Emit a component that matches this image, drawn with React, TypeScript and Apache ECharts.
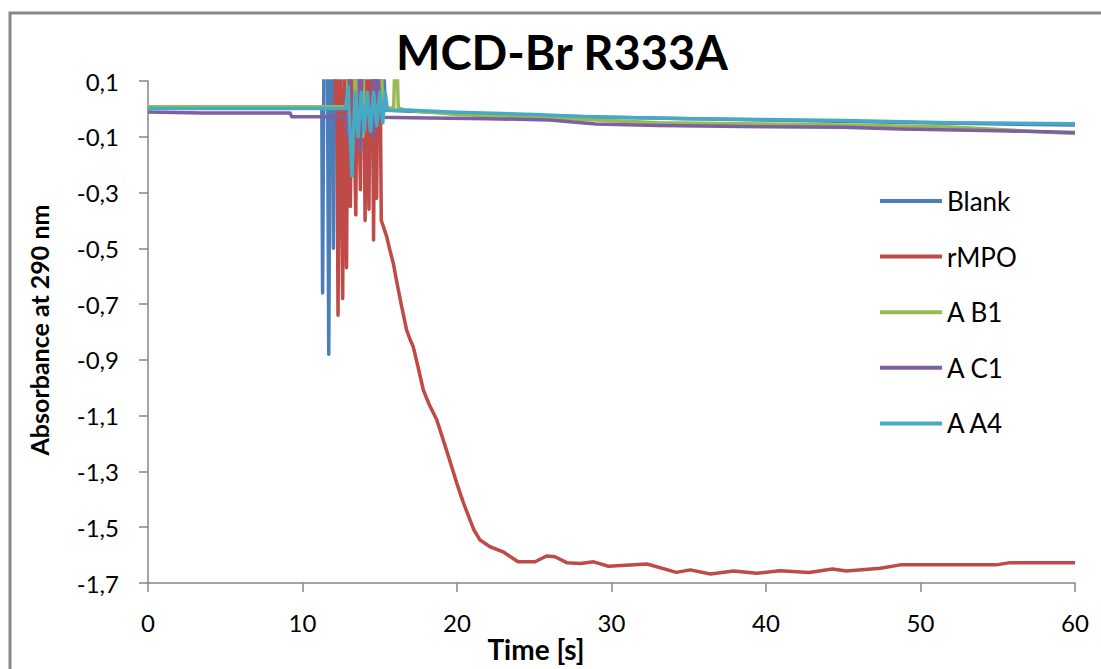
import React, { useEffect, useRef } from "react";
import * as echarts from "echarts";

const title = "MCD-Br R333A";
const xName = "Time [s]";
const yName = "Absorbance at 290 nm";
const seriesNames = ["Blank", "rMPO", "A B1", "A C1", "A A4"];
const colors = ["#4A7EBB", "#BE4B48", "#98B954", "#7D60A0", "#46AAC5"];

const blankT = [0, 5, 11.25, 11.3, 11.4, 11.6, 11.7, 11.8, 11.95, 12.0, 12.1, 15.2, 15.35, 20, 25, 30, 40, 50, 60];
const blankV = [0.005, 0.005, 0.005, -0.66, 0.3, 0.3, -0.88, 0.3, 0.3, -0.5, 0.3, 0.3, -0.005, -0.015, -0.025, -0.03, -0.04, -0.05, -0.058];

const rmpoT = [0, 6, 12.1, 12.2, 12.3, 12.4, 12.6, 12.7, 12.85, 12.95, 13.1, 13.2, 13.45, 13.55, 13.75, 13.85, 13.95, 14.05, 14.15, 14.3, 14.4, 14.5, 14.6, 14.7, 14.8, 14.9, 15.0, 15.1, 15.25, 15.45, 15.65, 15.88, 16.1, 16.42, 16.74, 16.95, 17.17, 17.5, 17.82, 18.2, 18.69, 19.3, 19.98, 20.4, 20.84, 21.1, 21.49, 22.14, 22.98, 23.95, 25.05, 25.8, 26.34, 27.1, 28.0, 28.85, 29.8, 32.3, 34.2, 35.1, 36.4, 37.9, 39.4, 40.9, 42.8, 44.3, 45.2, 47.4, 48.7, 53.0, 54.9, 55.8, 60];
const rmpoV = [0.005, 0.005, 0.005, 0.3, -0.74, 0.3, -0.68, 0.3, -0.57, 0.3, -0.35, 0.3, -0.38, 0.3, -0.29, 0.3, 0.3, -0.4, 0.3, -0.36, 0.3, 0.3, -0.47, 0.3, -0.32, 0.3, 0.3, -0.4, -0.425, -0.458, -0.505, -0.554, -0.62, -0.709, -0.793, -0.825, -0.853, -0.93, -1.008, -1.06, -1.115, -1.22, -1.341, -1.41, -1.474, -1.51, -1.546, -1.57, -1.588, -1.624, -1.624, -1.603, -1.606, -1.627, -1.63, -1.624, -1.64, -1.632, -1.662, -1.653, -1.668, -1.657, -1.665, -1.656, -1.662, -1.65, -1.657, -1.647, -1.635, -1.635, -1.635, -1.627, -1.627];

const ab1T = [0, 4, 9, 12.9, 13.0, 13.3, 13.45, 13.8, 13.9, 14.0, 14.3, 15.0, 15.2, 15.9, 16.05, 16.2, 16.6, 20, 25, 29, 33, 40, 45, 52, 57, 60];
const ab1V = [0.008, 0.008, 0.008, 0.008, 0.3, 0.3, -0.05, 0.3, -0.1, 0.3, 0.3, 0.3, 0.003, 0.003, 0.3, 0.003, -0.004, -0.02, -0.03, -0.04, -0.05, -0.054, -0.058, -0.065, -0.08, -0.088];

const ac1T = [0, 3.5, 9.2, 9.3, 12.85, 12.95, 13.1, 13.6, 13.75, 13.9, 14.5, 14.6, 14.8, 15.0, 17, 22, 26, 29, 33, 40, 45, 48.7, 55, 60];
const ac1V = [-0.011, -0.015, -0.015, -0.028, -0.028, -0.1, 0.3, 0.3, -0.15, 0.3, 0.3, -0.1, 0.3, -0.03, -0.032, -0.035, -0.04, -0.054, -0.06, -0.064, -0.066, -0.072, -0.078, -0.085];

const aa4T = [0, 12.8, 12.95, 13.2, 13.4, 13.6, 13.8, 14.0, 14.2, 14.4, 14.6, 14.8, 15.0, 15.2, 15.35, 15.5, 17, 20, 25, 29, 35, 45, 52, 60];
const aa4V = [0.001, 0.001, 0.08, -0.24, 0.06, -0.1, 0.06, -0.08, 0.06, -0.08, 0.06, -0.06, 0.06, -0.05, 0.06, -0.005, -0.005, -0.012, -0.02, -0.029, -0.035, -0.042, -0.05, -0.053];

const xTicks = [0, 60, 10];
const yTicks = [-1.7, 0.1, 0.2];

const FONT = "Lato, 'Open Sans', sans-serif";

function pairs(t: number[], v: number[]) {
  return t.map((x, i) => [x, v[i]]);
}

export default function App() {
  const ref = useRef<HTMLDivElement>(null);
  useEffect(() => {
    if (!ref.current) return;
    const chart = echarts.init(ref.current, null, { renderer: "svg" });
    const data = [
      pairs(blankT, blankV),
      pairs(rmpoT, rmpoV),
      pairs(ab1T, ab1V),
      pairs(ac1T, ac1V),
      pairs(aa4T, aa4V),
    ];
    chart.setOption({
      animation: false,
      backgroundColor: "#ffffff",
      color: colors,
      grid: { left: 148, top: 81, right: 26, bottom: 86, containLabel: false },
      graphic: [
        {
          type: "rect",
          z: -10,
          shape: { x: 10, y: 13, width: 1200, height: 800 },
          style: { fill: "none", stroke: "#888888", lineWidth: 3 },
        },
        {
          type: "text",
          x: 562,
          y: 52,
          style: {
            text: title,
            fontFamily: FONT,
            fontWeight: "bold",
            fontSize: 47,
            fill: "#000",
            align: "center",
            verticalAlign: "middle",
          },
        },
        {
          type: "text",
          x: 536,
          y: 649,
          style: {
            text: xName,
            fontFamily: FONT,
            fontWeight: "bold",
            fontSize: 28,
            fill: "#000",
            align: "center",
            verticalAlign: "middle",
          },
        },
        {
          type: "text",
          x: 39,
          y: 330,
          rotation: Math.PI / 2,
          style: {
            text: yName,
            fontFamily: FONT,
            fontWeight: "bold",
            fontSize: 25,
            fill: "#000",
            align: "center",
            verticalAlign: "middle",
          },
        },
      ],
      legend: {
        orient: "vertical",
        left: 875,
        top: 182,
        icon: "rect",
        itemWidth: 62,
        itemHeight: 4,
        itemGap: 27.6,
        data: seriesNames,
        textStyle: { fontFamily: FONT, fontSize: 26, color: "#000", lineHeight: 28 },
      },
      xAxis: {
        type: "value",
        min: xTicks[0],
        max: xTicks[1],
        interval: xTicks[2],
        axisLine: { onZero: false, lineStyle: { color: "#868686", width: 1.5 } },
        axisTick: { show: true, length: 9, lineStyle: { color: "#868686", width: 1.5 } },
        axisLabel: { fontFamily: FONT, fontSize: 24, color: "#000", margin: 27 },
        splitLine: { show: false },
      },
      yAxis: {
        type: "value",
        min: yTicks[0],
        max: yTicks[1],
        interval: yTicks[2],
        axisLine: { show: true, lineStyle: { color: "#868686", width: 1.5 } },
        axisTick: { show: true, length: 9, lineStyle: { color: "#868686", width: 1.5 } },
        axisLabel: {
          fontFamily: FONT,
          fontSize: 24,
          color: "#000",
          margin: 29,
          formatter: (v: number) => v.toFixed(1).replace(".", ","),
        },
        splitLine: { show: false },
      },
      series: seriesNames.map((name, i) => ({
        name,
        type: "line",
        data: data[i],
        symbol: "none",
        showSymbol: false,
        clip: true,
        lineStyle: { width: 3.5, color: colors[i], join: "round" },
        itemStyle: { color: colors[i] },
      })),
    });
    return () => chart.dispose();
  }, []);
  return (
    <div
      ref={ref}
      style={{ position: "fixed", left: 0, top: 0, width: 1101, height: 669, background: "#fff" }}
    />
  );
}
